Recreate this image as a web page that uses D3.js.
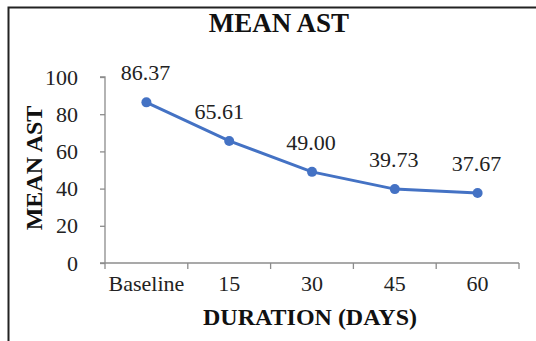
<!DOCTYPE html>
<html>
<head>
<meta charset="utf-8">
<script src="https://cdn.jsdelivr.net/npm/d3@7"></script>
<style>
  body { margin: 0; background: #fff; }
  text { font-family: "Liberation Serif", "Times New Roman", serif; }
</style>
</head>
<body>
<script>
var width = 536,
    height = 341;

var categories = ["Baseline", "15", "30", "45", "60"];
var values = [86.37, 65.61, 49.00, 39.73, 37.67];
var valueLabels = ["86.37", "65.61", "49.00", "39.73", "37.67"];
var yTicks = [0, 20, 40, 60, 80, 100];

var plotLeft = 105, plotRight = 519, plotTop = 77, plotBottom = 263;

var svg = d3.select("body")
            .append("svg")
            .attr("width", width)
            .attr("height", height);

// outer frame (cut off at right and bottom like the picture)
svg.append("rect")
   .attr("x", 8.5)
   .attr("y", 7.5)
   .attr("width", 540)
   .attr("height", 350)
   .attr("fill", "none")
   .attr("stroke", "#222")
   .attr("stroke-width", 2);

var xScale = d3.scaleBand()
    .domain(categories)
    .range([plotLeft, plotRight]);

var yScale = d3.scaleLinear()
    .domain([0, 100])
    .range([plotBottom, plotTop]);

// y axis
var yAxis = d3.axisLeft(yScale).tickValues(yTicks).tickSize(5).tickPadding(22);
var gy = svg.append("g")
   .attr("transform", "translate(" + plotLeft + ",0)")
   .call(yAxis);
gy.selectAll("path, line").attr("stroke", "#8c8c8c").attr("stroke-width", 1.3);
gy.select("path").attr("d", "M-5," + plotTop + "H0V" + plotBottom);
gy.selectAll("text")
  .attr("font-family", "Liberation Serif")
  .attr("font-size", "22px")
  .attr("fill", "#222");

// x axis with ticks at band boundaries
var gx = svg.append("g")
   .attr("transform", "translate(0," + plotBottom + ")");
gx.append("line")
  .attr("x1", plotLeft - 5).attr("x2", plotRight)
  .attr("stroke", "#8c8c8c").attr("stroke-width", 1.5);
var bounds = categories.map(function(c) { return xScale(c); }).concat([plotRight]);
gx.selectAll(".tk")
  .data(bounds)
  .enter()
  .append("line")
  .attr("x1", function(d) { return d; })
  .attr("x2", function(d) { return d; })
  .attr("y1", 0)
  .attr("y2", 6)
  .attr("stroke", "#8c8c8c").attr("stroke-width", 1.3);
gx.selectAll(".lb")
  .data(categories)
  .enter()
  .append("text")
  .attr("x", function(d) { return xScale(d) + xScale.bandwidth() / 2; })
  .attr("y", 28)
  .attr("text-anchor", "middle")
  .attr("font-size", "22px")
  .attr("fill", "#222")
  .text(function(d) { return d; });

// line
var cx = function(d, i) { return xScale(categories[i]) + xScale.bandwidth() / 2; };
var line = d3.line()
    .x(function(d, i) { return cx(d, i); })
    .y(function(d) { return yScale(d); });

svg.append("path")
   .datum(values)
   .attr("d", line)
   .attr("fill", "none")
   .attr("stroke", "#4472C4")
   .attr("stroke-width", 3);

svg.selectAll("circle")
   .data(values)
   .enter()
   .append("circle")
   .attr("cx", cx)
   .attr("cy", function(d) { return yScale(d); })
   .attr("r", 5)
   .attr("fill", "#4472C4");

// data labels
svg.selectAll(".vl")
   .data(values)
   .enter()
   .append("text")
   .attr("x", function(d, i) { return cx(d, i) + (i == 1 ? -10 : -1); })
   .attr("y", function(d) { return yScale(d) - 22; })
   .attr("text-anchor", "middle")
   .attr("font-size", "22px")
   .attr("fill", "#222")
   .text(function(d, i) { return valueLabels[i]; });

// titles
svg.append("text")
   .attr("x", 279)
   .attr("y", 32)
   .attr("text-anchor", "middle")
   .attr("font-size", "27px")
   .attr("font-weight", "bold")
   .attr("fill", "#111")
   .text("MEAN AST");

svg.append("text")
   .attr("transform", "translate(42,168) rotate(-90)")
   .attr("text-anchor", "middle")
   .attr("font-size", "24px")
   .attr("font-weight", "bold")
   .attr("fill", "#111")
   .text("MEAN AST");

svg.append("text")
   .attr("x", 310)
   .attr("y", 325)
   .attr("text-anchor", "middle")
   .attr("font-size", "24px")
   .attr("font-weight", "bold")
   .attr("fill", "#111")
   .text("DURATION (DAYS)");
</script>
</body>
</html>
